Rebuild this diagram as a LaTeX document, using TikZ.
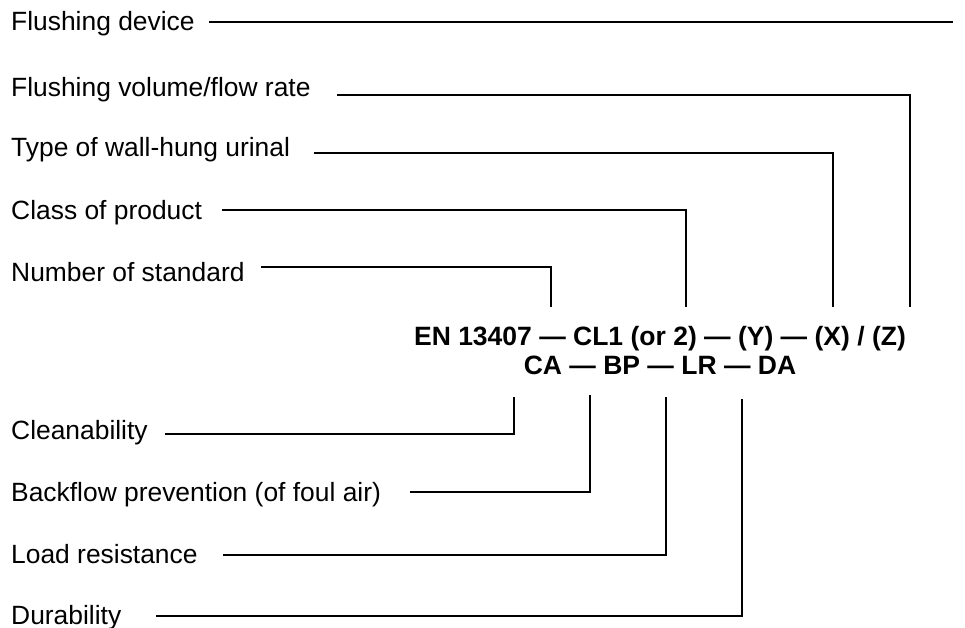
\documentclass[tikz,border=0pt]{standalone}
\usepackage{fontspec}
\setmainfont{Liberation Sans}
\begin{document}
\begin{tikzpicture}[x=1pt,y=-1pt,
  lbl/.style={anchor=base west,inner sep=0pt,font=\fontsize{26.4}{30}\selectfont},
  code/.style={anchor=base,inner sep=0pt,font=\fontsize{26.5}{30}\selectfont\bfseries},
  ln/.style={line width=1.7pt,line cap=rect}]
\useasboundingbox (0,0) rectangle (965,628);
% labels
\node[lbl] (fd) at (11,31) {Flushing device};
\node[lbl] (fv) at (11,97) {Flushing volume/flow rate};
\node[lbl] (tw) at (11,157) {Type of wall-hung urinal};
\node[lbl] (cp) at (11,219) {Class of product};
\node[lbl] (ns) at (11,281) {Number of standard};
\node[lbl] (ca) at (11,439) {Cleanability};
\node[lbl] (bp) at (11,501) {Backflow prevention (of foul air)};
\node[lbl] (lr) at (11,563) {Load resistance};
\node[lbl] (da) at (11,624) {Durability};
% code
\node[code] (m1) at (660,345) {EN 13407 — CL1 (or 2) — (Y) — (X) / (Z)};
\node[code] (m2) at (660,374) {CA — BP — LR — DA};
% corners
\coordinate (fdE) at (952,22);
\coordinate (fvC) at (910,95);  \coordinate (fvE) at (910,306);
\coordinate (twC) at (833,153); \coordinate (twE) at (833,306);
\coordinate (cpC) at (686,210); \coordinate (cpE) at (686,306);
\coordinate (nsC) at (551,267); \coordinate (nsE) at (551,306);
\coordinate (caC) at (514,434); \coordinate (caE) at (514,398);
\coordinate (bpC) at (590,492); \coordinate (bpE) at (590,396);
\coordinate (lrC) at (666,555); \coordinate (lrE) at (666,398);
\coordinate (daC) at (742,616); \coordinate (daE) at (742,400);
% connectors
\draw[ln] ([xshift=15pt]fd.east |- fdE) -- (fdE);
\draw[ln] ([xshift=27pt]fv.east |- fvC) -- (fvC) -- (fvE);
\draw[ln] ([xshift=25pt]tw.east |- twC) -- (twC) -- (twE);
\draw[ln] ([xshift=21pt]cp.east |- cpC) -- (cpC) -- (cpE);
\draw[ln] ([xshift=17pt]ns.east |- nsC) -- (nsC) -- (nsE);
\draw[ln] ([xshift=18pt]ca.east |- caC) -- (caC) -- (caE);
\draw[ln] ([xshift=30pt]bp.east |- bpC) -- (bpC) -- (bpE);
\draw[ln] ([xshift=26pt]lr.east |- lrC) -- (lrC) -- (lrE);
\draw[ln] ([xshift=35pt]da.east |- daC) -- (daC) -- (daE);
\end{tikzpicture}
\end{document}
